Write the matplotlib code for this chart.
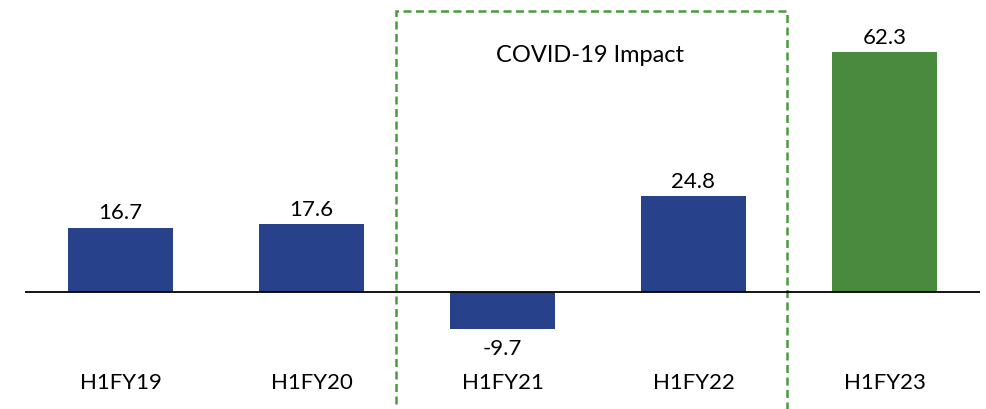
import matplotlib
matplotlib.use("Agg")
import matplotlib.pyplot as plt
from matplotlib.patches import Rectangle

categories = ["H1FY19", "H1FY20", "H1FY21", "H1FY22", "H1FY23"]
values = [16.7, 17.6, -9.7, 24.8, 62.3]
labels = ["16.7", "17.6", "-9.7", "24.8", "62.3"]
box_text = "COVID-19 Impact"

blue = "#27418a"
green = "#4a8a3f"
colors = [blue, blue, blue, blue, green]

plt.rcParams['font.family'] = ['Lato', 'DejaVu Sans']

fig = plt.figure(figsize=(9.87, 4.10), dpi=100)
ax = fig.add_axes([25 / 987, 0, 955 / 987, 1])
ax.set_xlim(-0.5, 4.5)
ax.set_ylim(-30.4, 76.1)
ax.set_axis_off()

x = list(range(len(categories)))
ax.bar(x, values, width=0.55, color=colors, zorder=2)
ax.axhline(0, color="black", lw=1.3, zorder=3)

fs = 16
for xi, v, lab in zip(x, values, labels):
    if v >= 0:
        ax.annotate(lab, (xi, v), xytext=(0, 4), textcoords="offset points",
                    ha="center", va="bottom", fontsize=fs)
    else:
        ax.annotate(lab, (xi, v), xytext=(0, -6), textcoords="offset points",
                    ha="center", va="top", fontsize=fs)
    ax.text(xi, -23.4, categories[xi], ha="center", va="center", fontsize=fs)

# dashed covid box
box = Rectangle((1.445, -40), 3.49 - 1.445, 73.0 + 40, fill=False,
                edgecolor="#4a9a40", lw=1.8, ls=(0, (3.2, 1.8)), zorder=1)
ax.add_patch(box)
ax.text(2.46, 61.6, box_text, ha="center", va="center", fontsize=fs + 1)

fig.savefig("out.png", dpi=100)
